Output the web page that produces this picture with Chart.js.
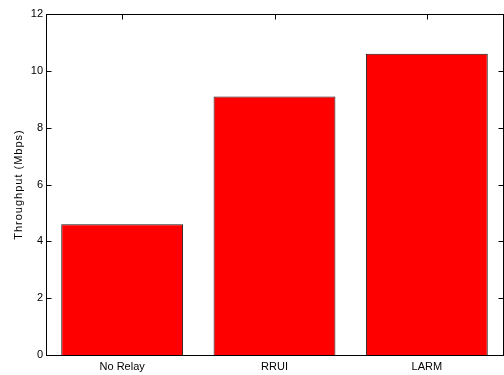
<!DOCTYPE html>
<html>
<head>
<meta charset="utf-8">
<script src="https://cdn.jsdelivr.net/npm/chart.js@4/dist/chart.umd.min.js"></script>
<style>
  html, body { margin: 0; padding: 0; background: #fff; }
  #wrap { width: 504px; height: 375px; position: relative; }
</style>
</head>
<body>
<div id="wrap"><canvas id="c" width="504" height="375"></canvas></div>
<script>
// Throughput per relaying scheme
const categories = ['No Relay', 'RRUI', 'LARM'];
const throughput = [4.6, 9.1, 10.6];
const yTicks = [0, 2, 4, 6, 8, 10, 12];
const yTitle = 'Throughput (Mbps)';

const FONT = "'Liberation Sans', Arial, Helvetica, sans-serif";

// Axes box with inward ticks on all four sides (drawn under the bars)
const boxPlugin = {
  id: 'box',
  beforeDatasetsDraw(chart) {
    const { ctx, chartArea: a, scales: { x, y } } = chart;
    const L = Math.floor(a.left) + 0.5, R = Math.floor(a.right) + 0.5;
    const T = Math.floor(a.top) + 0.5, B = Math.floor(a.bottom) + 0.5;
    const len = 5;
    ctx.save();
    ctx.strokeStyle = '#000';
    ctx.lineWidth = 1;
    ctx.beginPath();
    yTicks.forEach(v => {
      const py = Math.round(y.getPixelForValue(v)) + 0.5;
      ctx.moveTo(L, py); ctx.lineTo(L + len, py);
      ctx.moveTo(R, py); ctx.lineTo(R - len, py);
    });
    categories.forEach((c, i) => {
      const px = Math.round(x.getPixelForValue(i)) + 0.5;
      ctx.moveTo(px, T); ctx.lineTo(px, T + len);
      ctx.moveTo(px, B); ctx.lineTo(px, B - len);
    });
    ctx.stroke();
    ctx.restore();
  },
  afterDatasetsDraw(chart) {
    const { ctx, chartArea: a } = chart;
    const L = Math.floor(a.left) + 0.5, R = Math.floor(a.right) + 0.5;
    const T = Math.floor(a.top) + 0.5, B = Math.floor(a.bottom) + 0.5;
    ctx.save();
    ctx.strokeStyle = '#000';
    ctx.lineWidth = 1;
    ctx.strokeRect(L, T, R - L, B - T);
    ctx.restore();
  },
  afterDraw(chart) {
    // y-axis title, letter-spaced and rotated
    const { ctx, chartArea: a } = chart;
    ctx.save();
    ctx.translate(19, (a.top + a.bottom) / 2);
    ctx.rotate(-Math.PI / 2);
    ctx.font = '11px ' + FONT;
    ctx.fillStyle = '#000';
    ctx.textAlign = 'center';
    ctx.textBaseline = 'middle';
    if ('letterSpacing' in ctx) ctx.letterSpacing = '1px';
    ctx.fillText(yTitle, 0, 0);
    ctx.restore();
  }
};

new Chart(document.getElementById('c'), {
  type: 'bar',
  data: {
    labels: categories,
    datasets: [{
      data: throughput,
      backgroundColor: '#ff0000',
      borderColor: '#1a1a1a',
      borderWidth: 1,
      barPercentage: 0.8,
      categoryPercentage: 1.0
    }]
  },
  options: {
    responsive: false,
    animation: false,
    devicePixelRatio: 1,
    layout: { padding: { top: 14, right: 1, left: 0, bottom: 0 } },
    plugins: { legend: { display: false }, tooltip: { enabled: false } },
    scales: {
      x: {
        grid: { display: false, drawTicks: false },
        border: { display: false },
        ticks: {
          color: '#000',
          font: { family: FONT, size: 11 },
          padding: 5,
          autoSkip: false,
          maxRotation: 0
        },
        afterFit(scale) { scale.height = 20; }
      },
      y: {
        min: 0,
        max: 12,
        grid: { display: false, drawTicks: false },
        border: { display: false },
        afterBuildTicks(scale) { scale.ticks = yTicks.map(v => ({ value: v })); },
        ticks: {
          color: '#000',
          font: { family: FONT, size: 11 },
          padding: 3
        },
        afterFit(scale) { scale.width = 46; }
      }
    }
  },
  plugins: [boxPlugin]
});
</script>
</body>
</html>
